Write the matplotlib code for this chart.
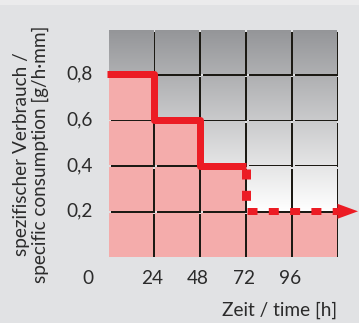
import numpy as np
import matplotlib
matplotlib.use("Agg")
import matplotlib.pyplot as plt
from matplotlib.patches import Rectangle, Polygon

# ---- data ----
hours_solid = [0, 24, 24, 48, 48, 72]
cons_solid = [0.8, 0.8, 0.6, 0.6, 0.4, 0.4]
hours_drop = [72, 72]
cons_drop = [0.4, 0.2]
hours_tail = [72, 120]
cons_tail = [0.2, 0.2]
x_ticks = [24, 48, 72, 96]
x_tick_labels = ["24", "48", "72", "96"]
y_ticks = [0.2, 0.4, 0.6, 0.8]
y_tick_labels = ["0,2", "0,4", "0,6", "0,8"]
# consumption level per 24h column (for pink fill under the step)
col_starts = [0, 24, 48, 72, 96]
col_level = [0.8, 0.6, 0.4, 0.2, 0.2]
row_starts = [0.0, 0.2, 0.4, 0.6, 0.8]

plt.rcParams['font.family'] = ['Lato', 'DejaVu Sans']
plt.rcParams['lines.scale_dashes'] = False

W, H = 359, 323
fig = plt.figure(figsize=(W / 100, H / 100), dpi=100)
fig.patch.set_facecolor('#e1e2e4')
fig.patches.append(Rectangle((0, 1 - 5 / H), 1, 5 / H, transform=fig.transFigure,
                             facecolor='#ebebec', edgecolor='none', zorder=0))

L, R, T, B = 107.5, 337.5, 28.5, 257.0
ax = fig.add_axes([L / W, 1 - B / H, (R - L) / W, (B - T) / H])
ax.set_xlim(0, 120)
ax.set_ylim(0, 1.0)
ax.axis('off')

px = 120 / (R - L)   # data per pixel x
py = 1.0 / (B - T)   # data per pixel y

pink = '#f4acab'
red = '#ec1c24'
shadow = '#1c1a14'
top_c = np.array([0.580, 0.584, 0.596])

cw, ch = 24, 0.2
inset = 1.5
tw = 44 * px
th = 44 * py
for xs, lvl in zip(col_starts, col_level):
    for ys in row_starts:
        x0 = xs + inset * px
        y1 = ys + ch - inset * py
        y0 = y1 - th
        ax.add_patch(Rectangle((x0 + 1.6 * px, y0 - 1.6 * py), tw, th,
                               facecolor=shadow, edgecolor='none', zorder=1))
        if ys + 1e-9 < lvl:
            ax.add_patch(Rectangle((x0, y0), tw, th, facecolor=pink,
                                   edgecolor='none', zorder=2))
        else:
            yy = np.linspace(y1, y0, 40)
            t = np.clip((yy - 0.2) / 0.8, 0, 1)
            cols = (1 - t)[:, None] * np.array([1.0, 1.0, 1.0]) + t[:, None] * top_c
            img = np.repeat(cols[:, None, :], 2, axis=1)
            ax.imshow(img, extent=(x0, x0 + tw, y0, y1), aspect='auto',
                      interpolation='bilinear', zorder=2)

ax.set_xlim(0, 120)
ax.set_ylim(0, 1.0)

lw = 7 * 0.72
ax.plot(hours_solid, cons_solid, color=red, lw=lw, solid_joinstyle='round',
        solid_capstyle='butt', zorder=5)
dash = (0, (10 * 0.72, 11.3 * 0.72))
ax.plot(hours_drop, [cons_drop[0] - 3 * py, cons_drop[1]], color=red, lw=9 * 0.72,
        linestyle=dash, dash_capstyle='butt', zorder=5)
ax.plot([hours_tail[0] + 1 * px, hours_tail[1]], cons_tail, color=red, lw=lw,
        linestyle=dash, dash_capstyle='butt', zorder=5)
xe, ye = hours_tail[-1], cons_tail[-1]
ax.add_patch(Polygon([(xe, ye + 7.5 * py), (xe + 20.5 * px, ye), (xe, ye - 7.5 * py)],
                     closed=True, facecolor=red, edgecolor='none', clip_on=False, zorder=6))

tc = '#2b2b2b'
fs = 13.7
for xv, lab in zip(x_ticks, x_tick_labels):
    ax.text(xv - 1.5 * px, -22 * py, lab, ha='center', va='center', fontsize=fs,
            color=tc, clip_on=False)
ax.text(-20 * px, -22 * py, "0", ha='center', va='center', fontsize=fs, color=tc,
        clip_on=False)
for yv, lab in zip(y_ticks, y_tick_labels):
    ax.text(-15 * px, yv, lab, ha='right', va='center', fontsize=fs, color=tc,
            clip_on=False)

fig.text(280 / W, 1 - 310 / H, "Zeit / time [h]", ha='center', va='center',
         fontsize=fs, color=tc)
fig.text(31 / W, 1 - 154 / H, "spezifischer Verbrauch /\nspecific consumption [g/h·mm]",
         ha='center', va='center', rotation=90, fontsize=fs, color=tc,
         linespacing=1.12, multialignment='center')

fig.savefig('out.png', dpi=100, facecolor=fig.get_facecolor())
